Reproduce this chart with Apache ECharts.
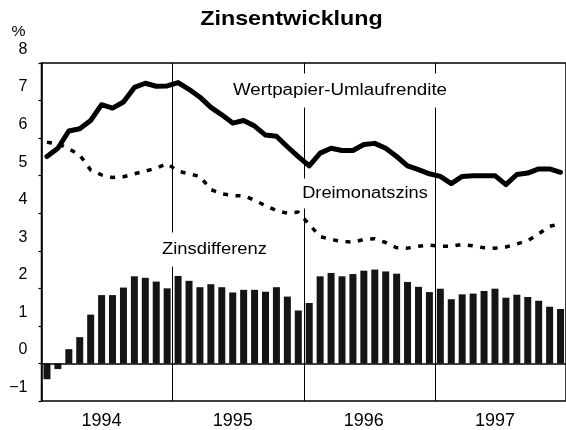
<!DOCTYPE html>
<html>
<head>
<meta charset="utf-8">
<script src="https://cdn.jsdelivr.net/npm/echarts@6/dist/echarts.min.js"></script>
<style>
  html, body { margin: 0; padding: 0; background: #fff; }
  #chart { width: 566px; height: 430px; }
</style>
</head>
<body>
<div id="chart"></div>
<script>
// Months Jan 1994 – Dec 1997
const years = ['1994', '1995', '1996', '1997'];
const months = [];
years.forEach(y => { for (let m = 1; m <= 12; m++) months.push(y + '-' + (m < 10 ? '0' + m : m)); });

// Wertpapier-Umlaufrendite (%)
const umlaufrendite = [
  5.51, 5.73, 6.19, 6.25, 6.47, 6.89, 6.80, 6.96, 7.35, 7.46, 7.38, 7.39,
  7.48, 7.30, 7.09, 6.82, 6.62, 6.40, 6.47, 6.32, 6.08, 6.05, 5.77, 5.51,
  5.26, 5.60, 5.73, 5.67, 5.67, 5.83, 5.86, 5.73, 5.51, 5.26, 5.16, 5.05,
  4.98, 4.79, 4.98, 5.00, 5.00, 5.00, 4.76, 5.03, 5.07, 5.18, 5.18, 5.09
];

// Dreimonatszins (%)
const dreimonatszins = [
  5.89, 5.85, 5.72, 5.55, 5.15, 5.02, 4.95, 4.97, 5.05, 5.12, 5.20, 5.32,
  5.12, 5.05, 4.98, 4.63, 4.52, 4.47, 4.46, 4.35, 4.20, 4.07, 4.00, 4.03,
  3.70, 3.38, 3.30, 3.25, 3.23, 3.30, 3.32, 3.22, 3.08, 3.07, 3.12, 3.15,
  3.12, 3.12, 3.17, 3.13, 3.08, 3.07, 3.10, 3.18, 3.27, 3.45, 3.65, 3.72
];

// Zinsdifferenz (Prozentpunkte)
const zinsdifferenz = [
  -0.42, -0.15, 0.38, 0.70, 1.30, 1.82, 1.82, 2.02, 2.32, 2.28, 2.18, 2.00,
  2.33, 2.20, 2.03, 2.11, 2.03, 1.89, 1.96, 1.96, 1.91, 2.03, 1.78, 1.41,
  1.61, 2.32, 2.41, 2.32, 2.38, 2.47, 2.50, 2.45, 2.39, 2.17, 2.04, 1.90,
  1.99, 1.71, 1.84, 1.86, 1.93, 1.99, 1.75, 1.83, 1.77, 1.67, 1.51, 1.45
];

const yTicks = { min: -1, max: 8, interval: 1 };

const FONT = '"Liberation Sans", Arial, Helvetica, sans-serif';

const chart = echarts.init(document.getElementById('chart'), null, { renderer: 'canvas' });

function label(text, x, y, size, weight, sx, pad) {
  return {
    type: 'text', x: x, y: y, scaleX: sx, scaleY: 1, z: 50,
    style: {
      text: text, fill: '#000',
      font: weight + ' ' + size + 'px ' + FONT,
      align: 'center', verticalAlign: 'middle',
      backgroundColor: pad ? '#fff' : 'transparent',
      padding: pad || 0
    }
  };
}

chart.setOption({
  animation: false,
  backgroundColor: '#fff',
  grid: {
    left: 41.5, right: -5.5, top: 63, bottom: 26,
    show: true, borderColor: '#000', borderWidth: 1.5, backgroundColor: 'transparent'
  },
  xAxis: {
    type: 'category',
    data: months,
    boundaryGap: true,
    axisLine: { show: false },
    axisTick: { show: false, interval: (i) => i % 12 === 0 },
    axisLabel: {
      interval: (i) => i % 12 === 5,
      formatter: (v) => v.slice(0, 4),
      fontFamily: FONT, fontSize: 18, color: '#000', margin: 11
    },
    splitLine: {
      show: true,
      interval: (i) => i % 12 === 0,
      lineStyle: { color: '#000', width: 1 }
    }
  },
  yAxis: {
    type: 'value',
    min: yTicks.min, max: yTicks.max, interval: yTicks.interval,
    axisLine: { show: true, lineStyle: { color: '#000', width: 1.5 } },
    axisTick: { show: true, length: 3, lineStyle: { color: '#000', width: 1.2 } },
    splitLine: { show: false },
    axisLabel: {
      margin: 14,
      formatter: (v) => '{v|' + String(v).replace('-', '\u2212') + '}',
      rich: {
        v: { fontFamily: FONT, fontSize: 16, color: '#000', padding: [0, 0, 27, 0] }
      }
    }
  },
  graphic: [
    label('Zinsentwicklung', 291.5, 19, 21, 'bold', 1.11),
    label('%', 18.5, 32, 15, 'normal', 1.05),
    label('Wertpapier-Umlaufrendite', 340, 90.5, 16, 'normal', 1.17, [9, 4]),
    label('Dreimonatszins', 365, 193.5, 16, 'normal', 1.14, [7, 3]),
    label('Zinsdifferenz', 214.5, 249.5, 16, 'normal', 1.15, [9, 4])
  ],
  series: [
    {
      name: 'Zinsdifferenz',
      type: 'bar',
      data: zinsdifferenz,
      barWidth: 7,
      itemStyle: { color: '#151515' },
      markLine: {
        silent: true, symbol: 'none', label: { show: false },
        lineStyle: { color: '#000', width: 1.5, type: 'solid' },
        data: [{ yAxis: 0 }]
      },
      z: 2
    },
    {
      name: 'Dreimonatszins',
      type: 'line',
      data: dreimonatszins,
      symbol: 'none',
      lineStyle: { color: '#000', width: 3.5, type: [5, 7.5], cap: 'butt' },
      z: 3
    },
    {
      name: 'Wertpapier-Umlaufrendite',
      type: 'line',
      data: umlaufrendite,
      symbol: 'none',
      lineStyle: { color: '#000', width: 5, join: 'round', cap: 'round' },
      z: 4
    }
  ]
});
</script>
</body>
</html>
